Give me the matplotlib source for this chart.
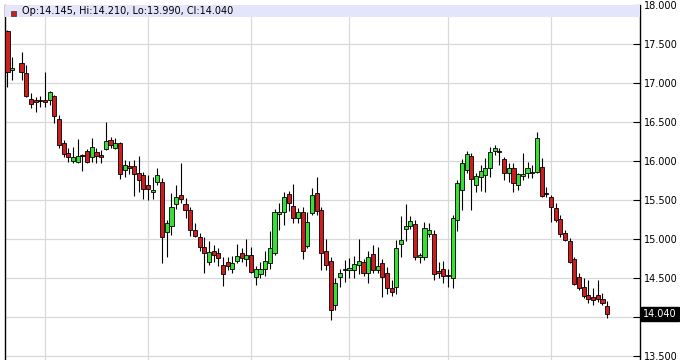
import numpy as np
import matplotlib.pyplot as plt
import matplotlib.transforms as mtransforms
from matplotlib.patches import Rectangle

nan = np.nan

# daily candles, one slot per trading day (slot 2 has no candle)
opens = [17.667, 17.170, nan, 17.253, 17.124, 16.795, 16.786, 16.780, 16.786, 16.782,
         16.837, 16.535, 16.227, 16.107, 16.000, 15.990, 16.080, 16.128, 16.047, 16.120,
         16.077, 16.150, 16.265, 16.170, 16.230, 15.885, 15.940, 15.940, 15.850, 15.817,
         15.690, 15.600, 15.730, 15.735, 15.094, 15.166, 15.450, 15.564, 15.449, 15.372,
         15.115, 15.030, 14.900, 14.700, 14.850, 14.817, 14.667, 14.710, 14.610, 14.720,
         14.820, 14.740, 14.790, 14.510, 14.550, 14.610, 14.690, 14.817, 15.320, 15.350,
         15.577, 15.420, 15.265, 15.350, 14.910, 15.330, 15.594, 15.370, 14.840, 14.720,
         14.150, 14.510, 14.600, 14.600, 14.600, 14.670, 14.710, 14.560, 14.810, 14.600,
         14.690, 14.560, 14.370, 14.380, 14.930, 15.125, 15.167, 15.190, 14.765, 14.765,
         15.070, 15.070, 14.590, 14.610, 14.540, 14.500, 15.250, 15.630, 15.890, 16.064,
         15.690, 15.795, 15.820, 15.906, 16.128, 16.132, 16.026, 15.842, 15.906, 15.692,
         15.812, 15.842, 15.842, 15.863, 15.927, 15.594, 15.542, 15.401, 15.256, 15.073,
         14.974, 14.740, 14.517, 14.380, 14.282, 14.260, 14.282, 14.230, 14.145]
highs = [17.680, 17.337, nan, 17.394, 17.230, 16.868, 16.824, 16.837, 17.145, 16.900,
         16.845, 16.590, 16.270, 16.163, 16.183, 16.282, 16.090, 16.150, 16.290, 16.163,
         16.140, 16.504, 16.310, 16.300, 16.250, 16.013, 16.000, 16.010, 16.060, 15.863,
         15.820, 15.800, 15.906, 15.780, 15.245, 15.586, 15.690, 15.970, 15.530, 15.414,
         15.200, 15.080, 15.020, 14.970, 14.920, 14.890, 14.770, 14.770, 14.780, 14.940,
         14.880, 15.000, 14.900, 14.650, 14.710, 14.850, 15.100, 15.380, 15.460, 15.600,
         15.620, 15.700, 15.400, 15.410, 15.350, 15.650, 15.790, 15.410, 15.000, 14.770,
         14.500, 14.620, 14.730, 14.760, 14.780, 15.000, 14.750, 14.840, 14.920, 14.900,
         14.750, 14.640, 14.470, 14.990, 15.290, 15.450, 15.300, 15.245, 14.820, 15.220,
         15.200, 15.115, 14.700, 14.720, 14.620, 15.310, 15.760, 16.030, 16.130, 16.100,
         15.850, 15.950, 16.035, 16.183, 16.205, 16.163, 16.055, 15.970, 15.970, 15.840,
         16.100, 15.990, 15.950, 16.368, 16.035, 15.670, 15.564, 15.460, 15.310, 15.120,
         15.010, 14.773, 14.560, 14.496, 14.474, 14.368, 14.474, 14.304, 14.210]
lows = [16.953, 17.040, nan, 17.040, 16.820, 16.676, 16.632, 16.696, 16.696, 16.718,
        16.483, 16.163, 16.055, 15.990, 15.970, 15.980, 15.876, 15.980, 15.990, 15.970,
        15.970, 16.140, 16.170, 16.150, 15.770, 15.800, 15.830, 15.550, 15.600, 15.510,
        15.500, 15.510, 15.690, 14.690, 14.765, 15.050, 15.390, 15.460, 15.270, 15.040,
        15.020, 14.850, 14.560, 14.670, 14.700, 14.650, 14.400, 14.600, 14.560, 14.690,
        14.700, 14.650, 14.560, 14.410, 14.500, 14.530, 14.620, 14.800, 15.110, 15.180,
        15.360, 15.200, 15.200, 14.740, 14.890, 15.310, 15.310, 14.600, 14.600, 13.960,
        14.090, 14.390, 14.450, 14.500, 14.500, 14.550, 14.530, 14.440, 14.560, 14.560,
        14.260, 14.290, 14.270, 14.300, 14.770, 14.970, 15.130, 14.730, 14.690, 14.730,
        15.030, 14.470, 14.500, 14.430, 14.390, 14.370, 15.100, 15.370, 15.850, 15.370,
        15.600, 15.620, 15.607, 15.800, 16.077, 15.950, 15.756, 15.735, 15.607, 15.630,
        15.756, 15.780, 15.780, 15.842, 15.540, 15.540, 15.220, 15.220, 15.030, 14.970,
        14.690, 14.410, 14.346, 14.240, 14.176, 14.154, 14.196, 14.154, 13.990]
closes = [17.145, 17.195, nan, 17.137, 16.833, 16.727, 16.753, 16.770, 16.760, 16.889,
          16.577, 16.205, 16.086, 16.055, 16.056, 16.064, 16.070, 15.991, 16.183, 16.064,
          16.047, 16.256, 16.205, 16.227, 15.830, 15.945, 15.910, 15.833, 15.756, 15.637,
          15.637, 15.630, 15.817, 15.022, 15.210, 15.414, 15.535, 15.513, 15.372, 15.115,
          15.040, 14.900, 14.817, 14.837, 14.790, 14.760, 14.547, 14.655, 14.695, 14.780,
          14.760, 14.790, 14.580, 14.610, 14.610, 14.720, 14.880, 15.340, 15.350, 15.535,
          15.458, 15.265, 15.350, 14.850, 15.220, 15.560, 15.360, 14.817, 14.667, 14.090,
          14.440, 14.560, 14.620, 14.630, 14.680, 14.720, 14.560, 14.765, 14.600, 14.655,
          14.517, 14.370, 14.325, 14.890, 14.990, 15.167, 15.235, 14.765, 14.795, 15.140,
          15.115, 14.550, 14.570, 14.530, 14.520, 15.265, 15.720, 15.980, 16.090, 15.765,
          15.810, 15.872, 15.906, 16.120, 16.163, 16.112, 15.842, 15.914, 15.714, 15.830,
          15.830, 15.906, 15.863, 16.290, 15.551, 15.573, 15.414, 15.244, 15.060, 14.987,
          14.701, 14.420, 14.368, 14.273, 14.230, 14.218, 14.230, 14.176, 14.040]

# first trading day of each month (slot numbers)
month_starts = [8, 30, 52, 73, 94, 116]
price_ticks = [13.5, 14.0, 14.5, 15.0, 15.5, 16.0, 16.5, 17.0, 17.5, 18.0]
header = 'Op:14.145, Hi:14.210, Lo:13.990, Cl:14.040'
last_label = '14.040'

UP = '#36de36'
DOWN = '#cc1e1e'


def main():
    o = np.array(opens)
    h = np.array(highs)
    l = np.array(lows)
    c = np.array(closes)
    x = np.arange(len(o))
    ok = ~np.isnan(o)

    fig = plt.figure(figsize=(6.8, 3.6), dpi=100)
    ax = fig.add_axes([5 / 680, 0, 634.5 / 680, 355 / 360])
    ax.set_xlim(-0.53, 134.9)
    ax.set_ylim(18 - 355 / 78, 18.0)

    # grid
    for t in price_ticks:
        ax.axhline(t, color='#d9d9d9', lw=0.9, zorder=0)
    for m in month_starts:
        ax.axvline(m, color='#d9d9d9', lw=0.9, zorder=0)

    # candles
    colors = np.where(c >= o, UP, DOWN)
    ax.vlines(x[ok], l[ok], h[ok], color='black', lw=0.8, zorder=2)
    body = np.maximum(np.abs(c - o), 0.012)
    ax.bar(x[ok], body[ok], bottom=np.minimum(o, c)[ok], width=0.88,
           color=colors[ok], edgecolor='black', linewidth=0.6, zorder=3)

    # header band
    ax.add_patch(Rectangle((0, 1 - 12 / 355), 1, 12 / 355, transform=ax.transAxes,
                           facecolor='#e4e4fa', edgecolor='none', zorder=4))
    ax.add_patch(Rectangle((6 / 634.5, 1 - 11 / 355), 5 / 634.5, 5.5 / 355,
                           transform=ax.transAxes, facecolor=DOWN,
                           edgecolor='#333333', lw=0.5, zorder=5))
    ax.text(17 / 634.5, 1 - 6.5 / 355, header, transform=ax.transAxes,
            fontsize=7, va='center', ha='left', color='black', zorder=6)

    # axes; the last-price tag sits where the 14.000 label would be
    ax.yaxis.tick_right()
    ax.set_yticks(price_ticks)
    ax.set_yticklabels(['' if t == 14.0 else '%.3f' % t for t in price_ticks])
    ax.tick_params(axis='y', direction='in', length=5, width=0.8, pad=3,
                   labelsize=7, colors='black')
    ax.set_xticks([])
    for side in ['top', 'bottom']:
        ax.spines[side].set_visible(False)
    for side in ['left', 'right']:
        ax.spines[side].set_color('black')
        ax.spines[side].set_linewidth(1.0)

    # last price tag
    trans = mtransforms.blended_transform_factory(ax.transAxes, ax.transData)
    ax.text(1 + 3.5 / 634.5, c[-1], last_label, transform=trans, fontsize=7,
            color='white', va='center', ha='left', clip_on=False, zorder=10,
            bbox=dict(boxstyle='square,pad=0.2', facecolor='black', edgecolor='black'))

    fig.savefig('out.png', dpi=100)


if __name__ == "__main__":
    main()
